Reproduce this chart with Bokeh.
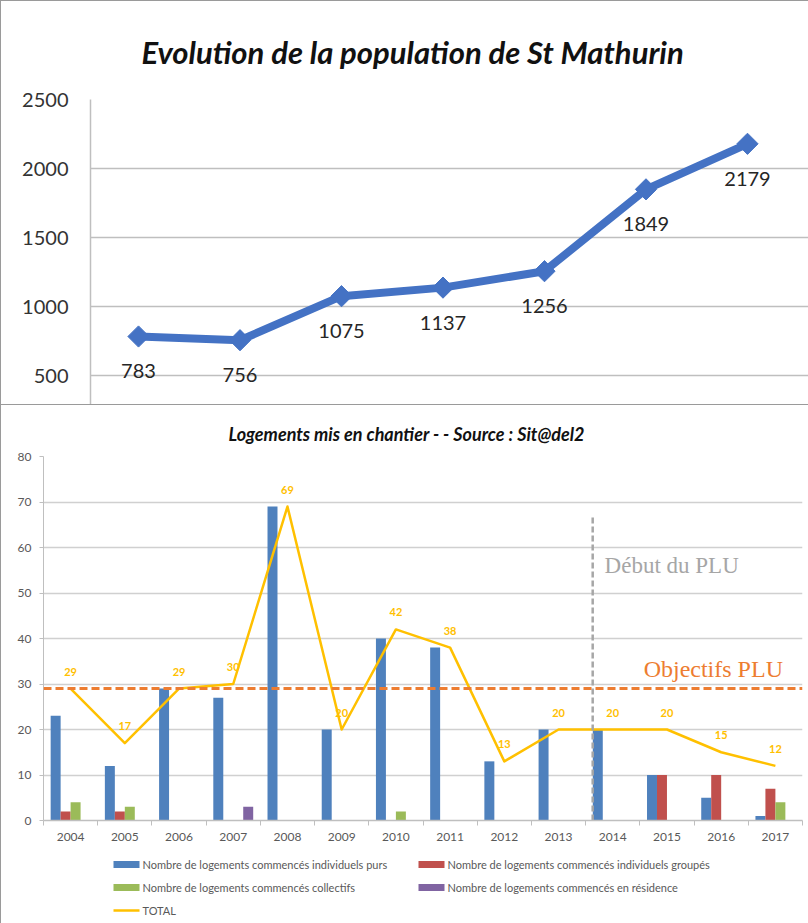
import math
from bokeh.plotting import figure
from bokeh.models import Range1d, FixedTicker, Span, ColumnDataSource
from bokeh.transform import dodge
from bokeh.core.properties import value
from bokeh.embed import file_html
from bokeh.resources import INLINE

# ---------------- data : population ----------------
pop_positions = [0, 1, 2, 3, 4, 5, 6]
pop_values = [783, 756, 1075, 1137, 1256, 1849, 2179]
pop_ticks = [500, 1000, 1500, 2000, 2500]

# ---------------- data : logements ----------------
years = ["2004", "2005", "2006", "2007", "2008", "2009", "2010",
         "2011", "2012", "2013", "2014", "2015", "2016", "2017"]
indiv_purs = [23, 12, 29, 27, 69, 20, 40, 38, 13, 20, 20, 10, 5, 1]
indiv_groupes = [2, 2, 0, 0, 0, 0, 0, 0, 0, 0, 0, 10, 10, 7]
collectifs = [4, 3, 0, 0, 0, 0, 2, 0, 0, 0, 0, 0, 0, 4]
residence = [0, 0, 0, 3, 0, 0, 0, 0, 0, 0, 0, 0, 0, 0]
total = [29, 17, 29, 30, 69, 20, 42, 38, 13, 20, 20, 20, 15, 12]
objectif_plu = 29
debut_plu_x = 10.13
log_ticks = [0, 10, 20, 30, 40, 50, 60, 70, 80]

series_labels = ["Nombre de logements commencés individuels purs",
                 "Nombre de logements commencés individuels groupés",
                 "Nombre de logements commencés collectifs",
                 "Nombre de logements commencés en résidence"]
series_colors = ["#4F81BD", "#C0504D", "#9BBB59", "#8064A2"]
total_label = "TOTAL"
total_color = "#FFC000"

FONT = "Lato"
SERIF = "Liberation Serif"
BORDER = "1px solid #9a9a9a"

# ================= top chart =================
p1 = figure(width=808, height=404, x_range=Range1d(-0.473, 6.611),
            y_range=Range1d(283, 2500), output_backend="svg",
            toolbar_location=None, x_axis_location=None,
            min_border_left=89, min_border_right=0, min_border_top=97,
            min_border_bottom=0)
p1.styles = {"border-top": BORDER, "border-left": BORDER}
p1.outline_line_color = None
p1.xgrid.visible = False
p1.ygrid.grid_line_color = "#bfbfbf"
p1.ygrid.grid_line_width = 1.5
p1.yaxis.ticker = FixedTicker(ticks=pop_ticks)
p1.yaxis.major_label_text_font = FONT
p1.yaxis.major_label_text_font_size = "20px"
p1.yaxis.major_label_text_color = "#333333"
p1.yaxis.major_tick_line_color = None
p1.yaxis.minor_tick_line_color = None
p1.yaxis.axis_line_color = "#bfbfbf"
p1.yaxis.axis_line_width = 1.5
p1.yaxis.major_label_standoff = 16

p1.title.text = "Evolution de la population de St Mathurin"
p1.title.text_font = FONT
p1.title.text_font_size = "31px"
p1.title.text_font_style = "bold italic"
p1.title.text_color = "#111111"
p1.title.align = "left"
p1.title.offset = 51
p1.title.standoff = 58

src1 = ColumnDataSource(dict(x=pop_positions, y=pop_values,
                             t=[str(v) for v in pop_values]))
p1.line("x", "y", source=src1, line_width=8, line_color="#4472C4")
p1.scatter("x", "y", source=src1, marker="square", size=15, angle=math.pi / 4,
           fill_color="#4472C4", line_color="#4472C4")
p1.text("x", "y", text="t", source=src1, y_offset=35, text_align="center",
        text_baseline="middle", text_font=value(FONT), text_font_size="20px",
        text_color="#262626")

# ================= bottom chart =================
n = len(years)
centers = [i + 0.5 for i in range(n)]
p2 = figure(width=808, height=443, x_range=Range1d(0, n), y_range=Range1d(0, 80),
            output_backend="svg", toolbar_location=None,
            min_border_left=42, min_border_right=7, min_border_top=51,
            min_border_bottom=28)
p2.styles = {"border-top": BORDER, "border-left": BORDER}
p2.outline_line_color = None
p2.xgrid.visible = False
p2.ygrid.grid_line_color = "#d0d0d0"
p2.ygrid.grid_line_width = 1.5

p2.yaxis.ticker = FixedTicker(ticks=log_ticks)
p2.yaxis.major_label_text_font = FONT
p2.yaxis.major_label_text_font_size = "12px"
p2.yaxis.major_label_text_color = "#595959"
p2.yaxis.major_tick_line_color = "#bfbfbf"
p2.yaxis.major_tick_out = 4
p2.yaxis.major_tick_in = 0
p2.yaxis.minor_tick_line_color = None
p2.yaxis.axis_line_color = "#bfbfbf"
p2.yaxis.major_label_standoff = 8

p2.xaxis.ticker = FixedTicker(ticks=centers, minor_ticks=list(range(n + 1)))
p2.xaxis.major_label_overrides = {c: y for c, y in zip(centers, years)}
p2.xaxis.major_label_text_font = FONT
p2.xaxis.major_label_text_font_size = "12px"
p2.xaxis.major_label_text_color = "#595959"
p2.xaxis.major_tick_line_color = None
p2.xaxis.minor_tick_line_color = "#bfbfbf"
p2.xaxis.minor_tick_out = 5
p2.xaxis.minor_tick_in = 0
p2.xaxis.axis_line_color = "#bfbfbf"
p2.xaxis.axis_line_width = 1.5
p2.xaxis.major_label_standoff = 6

p2.title.text = "Logements mis en chantier - - Source : Sit@del2"
p2.title.text_font = FONT
p2.title.text_font_size = "18px"
p2.title.text_font_style = "bold italic"
p2.title.text_color = "#111111"
p2.title.align = "left"
p2.title.offset = 185
p2.title.standoff = 23

src2 = ColumnDataSource(dict(x=centers, purs=indiv_purs, grp=indiv_groupes,
                             col=collectifs, res=residence, tot=total,
                             tl=[str(v) for v in total]))
bw = 0.184
fields = ["purs", "grp", "col", "res"]
for k, (f, c) in enumerate(zip(fields, series_colors)):
    p2.vbar(x=dodge("x", (k - 1.5) * bw, range=p2.x_range), top=f, width=bw,
            source=src2, fill_color=c, line_color=None)

p2.line("x", "tot", source=src2, line_color=total_color, line_width=2.5,
        line_join="round")
p2.text("x", "tot", text="tl", source=src2, y_offset=-17, text_align="center",
        text_baseline="middle", text_font=value(FONT), text_font_size="11px",
        text_font_style="bold", text_color=total_color)

p2.add_layout(Span(location=objectif_plu, dimension="width", line_color="#ED7D31",
                   line_width=3, line_dash="8 4"))
p2.segment(x0=[debut_plu_x], y0=[0], x1=[debut_plu_x], y1=[67],
           line_color="#a6a6a6", line_width=2.5, line_dash="6 3")
p2.text(x=[debut_plu_x + 0.22], y=[56], text=["Début du PLU"], text_align="left",
        text_baseline="middle", text_font=value(SERIF), text_font_size="23px",
        text_color="#a6a6a6")
p2.text(x=[11.07], y=[33.4], text=["Objectifs PLU"], text_align="left",
        text_baseline="middle", text_font=value(SERIF), text_font_size="24px",
        text_color="#ED7D31")

# ================= legend strip (pixel layout) =================
p3 = figure(width=808, height=76, x_range=Range1d(0, 808), y_range=Range1d(76, 0),
            output_backend="svg", toolbar_location=None,
            x_axis_location=None, y_axis_location=None,
            min_border_left=0, min_border_right=0, min_border_top=0,
            min_border_bottom=0)
p3.styles = {"border-left": BORDER}
p3.outline_line_color = None
p3.xgrid.visible = False
p3.ygrid.visible = False
sw_x = [112, 417, 112, 417]
sw_y = [17, 17, 40, 40]
p3.quad(left=sw_x, right=[x + 26 for x in sw_x], top=[y - 3.5 for y in sw_y],
        bottom=[y + 3.5 for y in sw_y], fill_color=series_colors, line_color=None)
p3.text(x=[x + 29 for x in sw_x], y=sw_y, text=series_labels, text_align="left",
        text_baseline="middle", text_font=value(FONT), text_font_size="11px",
        text_color="#595959")
p3.segment(x0=[112], y0=[63], x1=[138], y1=[63], line_color=total_color,
           line_width=2.5)
p3.text(x=[141], y=[63], text=[total_label], text_align="left",
        text_baseline="middle", text_font=value(FONT), text_font_size="11px",
        text_color="#595959")

# separate roots so that the frames are not aligned with each other
open("out.html", "w").write(file_html([p1, p2, p3], INLINE))
